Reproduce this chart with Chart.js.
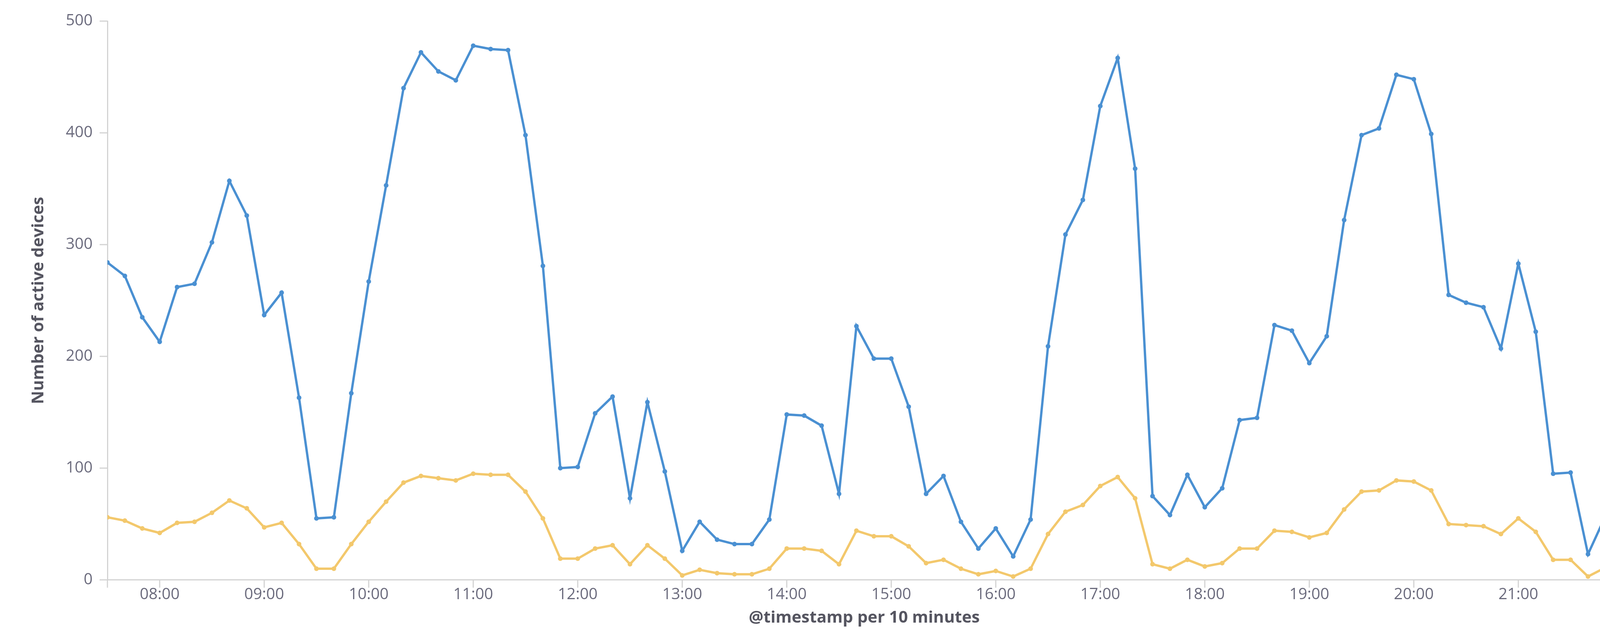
<!DOCTYPE html>
<html>
<head>
<meta charset="utf-8">
<script src="https://cdn.jsdelivr.net/npm/chart.js@4"></script>
<style>
  html, body { margin: 0; padding: 0; background: #fff; overflow: hidden; }
  #wrap { width: 4176px; height: 1640px; position: relative; }
  #chart { width: 4176px !important; height: 1640px !important; }
</style>
</head>
<body>
<div id="wrap"><canvas id="chart"></canvas></div>
<script>
// 10 minute buckets, 07:30 .. 21:50
var startTime = "07:30";
var activeDevices = [284, 272, 235, 213, 262, 265, 302, 357, 326, 237, 257, 163, 55, 56, 167, 267, 353, 440, 472, 455,
    447, 478, 475, 474, 398, 281, 100, 101, 149, 164, 73, 159, 97, 26, 52, 36, 32, 32, 54, 148,
    147, 138, 77, 227, 198, 198, 155, 77, 93, 52, 28, 46, 21, 54, 209, 309, 340, 424, 467, 368,
    75, 58, 94, 65, 82, 143, 145, 228, 223, 194, 218, 322, 398, 404, 452, 448, 399, 255, 248, 244,
    207, 283, 222, 95, 96, 23, 57];
var secondSeries = [56, 53, 46, 42, 51, 52, 60, 71, 64, 47, 51, 32, 10, 10, 32, 52, 70, 87, 93, 91,
    89, 95, 94, 94, 79, 55, 19, 19, 28, 31, 14, 31, 19, 4, 9, 6, 5, 5, 10, 28,
    28, 26, 14, 44, 39, 39, 30, 15, 18, 10, 5, 8, 3, 10, 41, 61, 67, 84, 92, 73,
    14, 10, 18, 12, 15, 28, 28, 44, 43, 38, 42, 63, 79, 80, 89, 88, 80, 50, 49, 48,
    41, 55, 43, 18, 18, 3, 11];
var yTicks = [0, 100, 200, 300, 400, 500];
var endTime = "22:00";

function toMinutes(s) {
    var p = s.split(":");
    return parseInt(p[0]) * 60 + parseInt(p[1]);
}
function fmt(m) {
    var h = Math.floor(m / 60), mm = m % 60;
    return (h < 10 ? "0" : "") + h + ":" + (mm < 10 ? "0" : "") + mm;
}

var t0 = toMinutes(startTime);
var t1 = toMinutes(endTime);
function points(values) {
    return values.map(function (v, i) { return { x: t0 + i * 10, y: v }; });
}

var axisColor = '#d3d3d3';
var textColor = '#6b6b7d';

var config = {
    type: 'line',
    data: {
        datasets: [{
            data: points(activeDevices),
            borderColor: '#4a90d2',
            backgroundColor: '#4a90d2',
            borderWidth: 6,
            pointRadius: 6,
            pointBorderWidth: 0,
            tension: 0
        }, {
            data: points(secondSeries),
            borderColor: '#f3c86c',
            backgroundColor: '#f3c86c',
            borderWidth: 6,
            pointRadius: 6,
            pointBorderWidth: 0,
            tension: 0
        }]
    },
    options: {
        responsive: false,
        maintainAspectRatio: false,
        devicePixelRatio: 1,
        animation: false,
        layout: { padding: { top: 40, right: 26, left: 70, bottom: 30 } },
        plugins: { legend: { display: false }, tooltip: { enabled: false } },
        scales: {
            x: {
                type: 'linear',
                min: t0,
                max: t1 - 1,
                afterBuildTicks: function (axis) {
                    var ticks = [];
                    for (var m = Math.ceil(t0 / 60) * 60; m < t1; m += 60) ticks.push({ value: m });
                    axis.ticks = ticks;
                },
                ticks: {
                    callback: function (v) { return fmt(v); },
                    color: textColor,
                    font: { family: 'Open Sans', size: 40 },
                    padding: 6,
                    maxRotation: 0
                },
                grid: { display: false },
                border: { color: axisColor, width: 3 },
                title: {
                    display: true,
                    text: '@timestamp per 10 minutes',
                    color: '#555560',
                    font: { family: 'Open Sans', size: 42, weight: 'bold' },
                    padding: { top: 4 }
                }
            },
            y: {
                min: 0,
                max: 500,
                afterBuildTicks: function (axis) {
                    axis.ticks = yTicks.map(function (v) { return { value: v }; });
                },
                ticks: {
                    color: textColor,
                    font: { family: 'Open Sans', size: 40 },
                    padding: 30
                },
                grid: { display: false },
                border: { color: axisColor, width: 3 },
                title: {
                    display: true,
                    text: 'Number of active devices',
                    color: '#555560',
                    font: { family: 'Open Sans', size: 42, weight: 'bold' },
                    padding: { bottom: 14 }
                }
            }
        }
    },
    plugins: [{
        id: 'axisTicks',
        beforeDatasetsDraw: function (chart) {
            // short tick marks outside the axes, no grid lines inside
            var c = chart.ctx, x = chart.scales.x, y = chart.scales.y;
            c.save();
            c.strokeStyle = axisColor;
            c.lineWidth = 3;
            x.ticks.forEach(function (t) {
                var px = x.getPixelForValue(t.value);
                c.beginPath(); c.moveTo(px, y.bottom); c.lineTo(px, y.bottom + 20); c.stroke();
            });
            [x.left, x.right].forEach(function (px) {
                c.beginPath(); c.moveTo(px, y.bottom); c.lineTo(px, y.bottom + 20); c.stroke();
            });
            y.ticks.forEach(function (t) {
                var py = y.getPixelForValue(t.value);
                c.beginPath(); c.moveTo(x.left - 20, py); c.lineTo(x.left, py); c.stroke();
            });
            c.restore();
        }
    }]
};

var canvas = document.getElementById('chart');
canvas.width = 4176;
canvas.height = 1640;
var chart = new Chart(canvas.getContext('2d'), config);
</script>
</body>
</html>
